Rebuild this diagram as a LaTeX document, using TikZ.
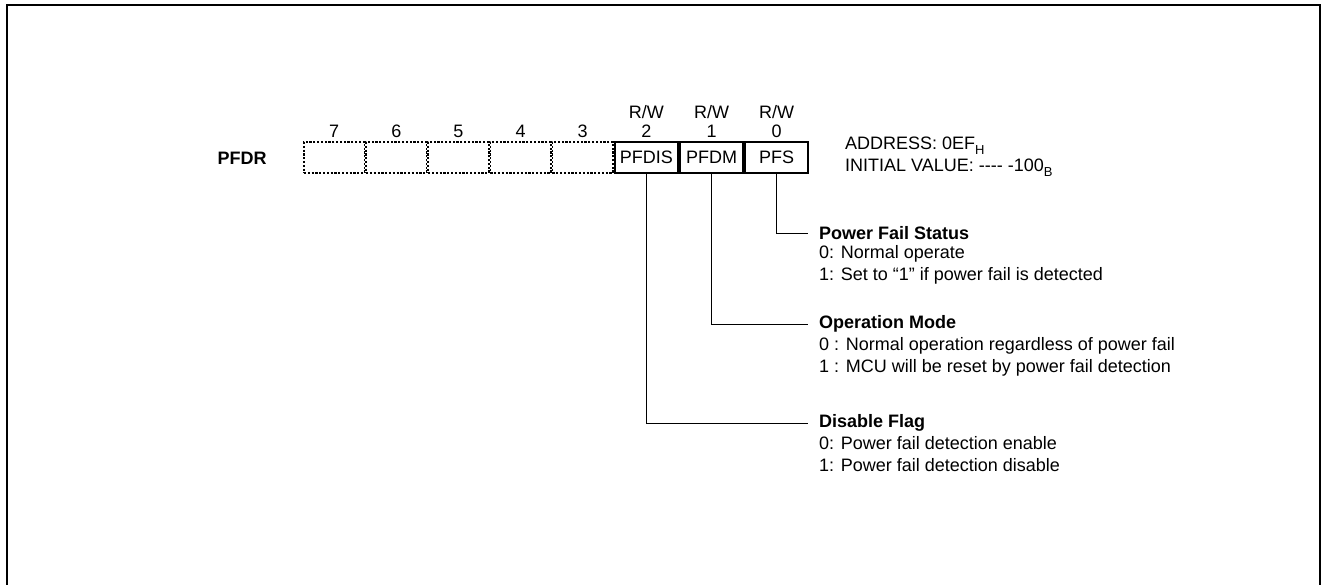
\documentclass[tikz,border=0pt]{standalone}
\usepackage{fontspec}
\setmainfont{Liberation Sans}
\usetikzlibrary{positioning}

\newcommand{\regsub}[1]{\raisebox{-0.45ex}{\fontsize{13}{13}\selectfont #1}}

\begin{document}
\begin{tikzpicture}[
    x=1pt, y=-1pt,
    font=\fontsize{18}{22}\selectfont,
    emptycell/.style={draw, line width=1.6pt, dash pattern=on 2.2pt off 1.6pt, minimum width=60.5pt, minimum height=31pt, inner sep=0pt},
    bitcell/.style={draw, line width=2.2pt, minimum width=63pt, minimum height=31pt, inner sep=0pt},
    bitnum/.style={inner sep=0pt, anchor=base},
    head/.style={font=\fontsize{18}{22}\selectfont\bfseries, inner sep=0pt, anchor=west},
    desc/.style={align=left, inner sep=0pt},
    conn/.style={line width=0.9pt}
  ]
    \useasboundingbox (0,0) rectangle (1323,585);
    \draw[line width=2pt] (6.5,585) -- (6.5,5.5) -- (1319.5,5.5) -- (1319.5,585);

    \node[font=\fontsize{18}{22}\selectfont\bfseries, inner sep=0pt] (reg) at (242,158) {PFDR};

    \node[emptycell] (b7) at (334.25,157.5) {};
    \node[emptycell, right=0pt of b7] (b6) {};
    \node[emptycell, right=0pt of b6] (b5) {};
    \node[emptycell, right=0pt of b5] (b4) {};
    \node[emptycell, right=0pt of b4] (b3) {};
    \node[bitcell, right=0pt of b3] (pfdis) {PFDIS};
    \node[bitcell, right=0pt of pfdis] (pfdm) {PFDM};
    \node[bitcell, right=0pt of pfdm] (pfs) {PFS};

    \foreach \c/\n in {b7/7, b6/6, b5/5, b4/4, b3/3, pfdis/2, pfdm/1, pfs/0}
      \node[bitnum] at ([yshift=3.5pt]\c.north) {\n};
    \foreach \c in {pfdis, pfdm, pfs}
      \node[bitnum] at ([yshift=22.5pt]\c.north) {R/W};

    \node[desc, anchor=north west] (addr) at (845,137) {ADDRESS: 0EF\regsub{H}\\INITIAL VALUE: {-}{-}{-}{-} {-}100\regsub{B}};

    \node[head] (pfshead) at (819,233) {Power Fail Status};
    \node[desc, below=5pt of pfshead.south west, anchor=north west] (pfsdesc) {0: Normal operate\\1: Set to ``1'' if power fail is detected};

    \node[head] (pfdmhead) at (819,324) {Operation Mode};
    \node[desc, below=5pt of pfdmhead.south west, anchor=north west] (pfdmdesc) {0 : Normal operation regardless of power fail\\1 : MCU will be reset by power fail detection};

    \node[head] (pfdishead) at (819,423) {Disable Flag};
    \node[desc, below=5pt of pfdishead.south west, anchor=north west] (pfdisdesc) {0: Power fail detection enable\\1: Power fail detection disable};

    \draw[conn] (pfs.south) |- ([xshift=-11pt]pfshead.west);
    \draw[conn] (pfdm.south) |- ([xshift=-11pt]pfdmhead.west);
    \draw[conn] (pfdis.south) |- ([xshift=-11pt]pfdishead.west);
\end{tikzpicture}
\end{document}
